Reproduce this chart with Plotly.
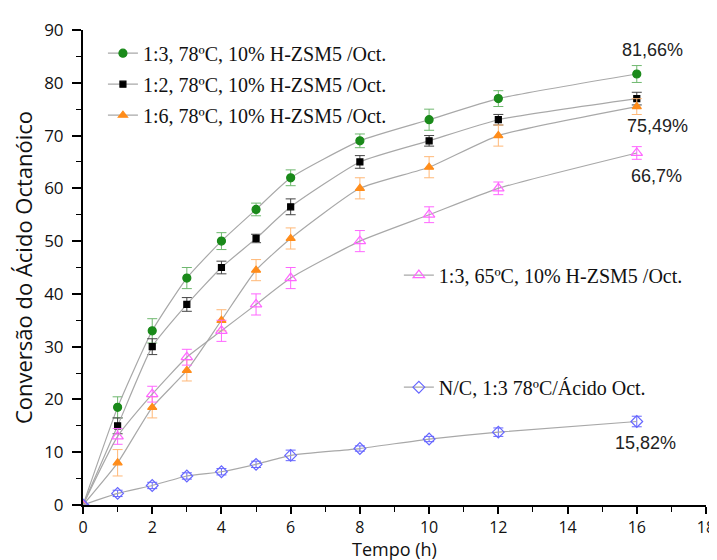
import plotly.graph_objects as go

tempo = [0, 1, 2, 3, 4, 5, 6, 8, 10, 12, 16]
s_13_78 = [0, 18.5, 33, 43, 50, 56, 62, 69, 73, 77, 81.66]
e_13_78 = [0, 2, 2.3, 2, 1.6, 1.2, 1.5, 1.3, 2, 1.5, 1.6]
s_12_78 = [0, 15, 30, 38, 45, 50.5, 56.5, 65, 69, 73, 77]
e_12_78 = [0, 1.5, 1.5, 1.3, 1.2, 0.8, 1.5, 1.2, 1, 1, 1.2]
s_16_78 = [0, 8, 18.5, 25.5, 35, 44.5, 50.5, 60, 64, 70, 75.49]
e_16_78 = [0, 2.5, 2, 2, 2, 2, 2, 2, 2, 2, 1.5]
s_13_65 = [0, 13, 21, 28, 33, 38, 43, 50, 55, 60, 66.7]
e_13_65 = [0, 1.5, 1.5, 1.5, 2, 2, 2, 2, 1.5, 1.2, 1.2]
s_nc = [0, 2.2, 3.7, 5.5, 6.3, 7.7, 9.4, 10.7, 12.5, 13.8, 15.82]
e_nc = [0, 0.6, 0.6, 0.6, 0.6, 0.6, 1, 0.5, 0.5, 0.8, 1]

series = [
    ("1:3, 78ºC, 10% H-ZSM5 /Oct.", s_13_78, e_13_78, "circle", "#1a8a1a", "#6fb86f", 8, "legend"),
    ("1:2, 78ºC, 10% H-ZSM5 /Oct.", s_12_78, e_12_78, "square", "#000000", "#444444", 6, "legend"),
    ("1:6, 78ºC, 10% H-ZSM5 /Oct.", s_16_78, e_16_78, "triangle-up", "#ff8c1a", "#ffb877", 8, "legend"),
    ("1:3, 65ºC, 10% H-ZSM5 /Oct.", s_13_65, e_13_65, "triangle-up-open", "#ff66ff", "#ff66ff", 10, "legend2"),
    ("N/C, 1:3 78ºC/Ácido Oct.", s_nc, e_nc, "diamond-open", "#6666ff", "#6666ff", 9, "legend3"),
]

fig = go.Figure()
for i, (name, ys, es, sym, col, ecol, size, leg) in enumerate(series):
    fig.add_trace(go.Scatter(
        x=tempo, y=ys, name=name, mode="lines+markers",
        line=dict(color="#a8a8a8", width=1.2, shape="spline", smoothing=0.5),
        marker=dict(symbol=sym, color=col, size=size, line=dict(color=col, width=1.2)),
        error_y=dict(type="data", array=es, visible=True, color=ecol, thickness=1, width=5),
        legend=leg, legendgroup="g%d" % i,
    ))

legfont = dict(family="Liberation Serif", size=20, color="#111")
fig.update_layout(
    width=717, height=560,
    margin=dict(l=75, r=19, t=22, b=63),
    paper_bgcolor="white", plot_bgcolor="white",
    legend=dict(x=0.032, y=0.886, xanchor="left", yanchor="middle", font=legfont,
                bgcolor="rgba(0,0,0,0)", tracegroupgap=2, itemwidth=30),
    legend2=dict(x=0.507, y=0.484, xanchor="left", yanchor="middle", font=legfont,
                 bgcolor="rgba(0,0,0,0)", itemwidth=30),
    legend3=dict(x=0.507, y=0.248, xanchor="left", yanchor="middle", font=legfont,
                 bgcolor="rgba(0,0,0,0)", itemwidth=30),
    xaxis=dict(range=[0, 18], dtick=2, showgrid=False, zeroline=False, automargin=False,
               showline=True, linecolor="#000", linewidth=2,
               ticks="outside", ticklen=7, tickwidth=1.5, tickcolor="#000",
               minor=dict(dtick=1, ticks="outside", ticklen=5, tickcolor="#000", tickwidth=1.2),
               tickfont=dict(family="Open Sans", size=16, color="#111")),
    yaxis=dict(range=[0, 90], dtick=10, showgrid=False, zeroline=False, automargin=False,
               showline=True, linecolor="#000", linewidth=2,
               ticks="outside", ticklen=9, tickwidth=1.5, tickcolor="#000", ticklabelstandoff=5,
               minor=dict(dtick=5, ticks="outside", ticklen=5, tickcolor="#000", tickwidth=1.2),
               tickfont=dict(family="Open Sans", size=17, color="#111"),
               title=dict(text="Conversão do Ácido Octanóico", font=dict(family="Open Sans", size=22, color="#111"), standoff=12)),
)

fig.add_annotation(x=0.5, y=-0.092, xref="paper", yref="paper", text="Tempo (h)",
                   showarrow=False, yanchor="middle",
                   font=dict(family="Open Sans", size=18, color="#111"))

labels = [("81,66%", 652, 50), ("75,49%", 657, 126), ("66,7%", 656, 176), ("15,82%", 645, 443)]
for txt, px, py in labels:
    fig.add_annotation(x=(px - 83) / (706 - 83) * 18, y=(505 - py) / (505 - 30) * 90,
                       text=txt, showarrow=False,
                       font=dict(family="Liberation Sans", size=18, color="#222"))

fig.write_html("out.html")
